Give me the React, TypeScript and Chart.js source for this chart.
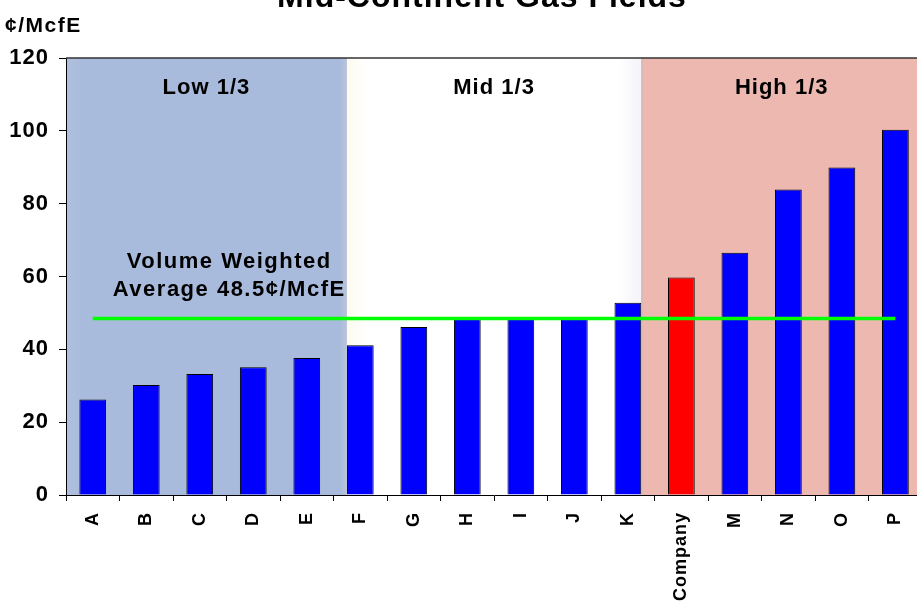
import React, { useEffect, useRef } from "react";
import { Chart, registerables } from "chart.js";

Chart.register(...registerables);

// ---- data ----
const chartTitle = "Mid-Continent Gas Fields";
const unitLabel = "¢/McfE";
const categories = ["A", "B", "C", "D", "E", "F", "G", "H", "I", "J", "K", "Company", "M", "N", "O", "P"];
const costs = [26.2, 30.2, 33.2, 35.1, 37.6, 41.1, 46.1, 48.3, 48.3, 48.3, 52.8, 59.7, 66.5, 83.9, 89.9, 100.3];
const highlightCategory = "Company";
const weightedAverage = 48.5;
const averageLabelLines = ["Volume Weighted", "Average 48.5¢/McfE"];
const yTicks = [0, 20, 40, 60, 80, 100, 120];
const bandLabels = ["Low 1/3", "Mid 1/3", "High 1/3"];
// band boundaries expressed in category-index units
const bandEdges = [-0.5, 4.75, 10.25, 15.5];

const FONT = "'Liberation Sans', Arial, Helvetica, sans-serif";
const BLUE_BAND = "#a9bbdc";
const PINK_BAND = "#edb8b0";

const bandsPlugin = {
  id: "bands",
  beforeDraw(chart: any) {
    const { ctx, chartArea: a, scales } = chart;
    const x = scales.x;
    const h = a.bottom - a.top;
    const b1 = x.getPixelForValue(bandEdges[1]);
    const p0 = x.getPixelForValue(bandEdges[2]);
    ctx.save();
    ctx.fillStyle = "#ffffff";
    ctx.fillRect(a.left, a.top, a.right - a.left, h);
    // low band
    ctx.fillStyle = BLUE_BAND;
    ctx.fillRect(a.left, a.top, b1 - a.left, h);
    let g = ctx.createLinearGradient(a.left, 0, a.left + 16, 0);
    g.addColorStop(0, "#b0c0de");
    g.addColorStop(1, BLUE_BAND);
    ctx.fillStyle = g;
    ctx.fillRect(a.left, a.top, 16, h);
    g = ctx.createLinearGradient(b1 - 7, 0, b1, 0);
    g.addColorStop(0, BLUE_BAND);
    g.addColorStop(1, "#b9c4da");
    ctx.fillStyle = g;
    ctx.fillRect(b1 - 7, a.top, 7, h);
    g = ctx.createLinearGradient(b1, 0, b1 + 20, 0);
    g.addColorStop(0, "#fdfbee");
    g.addColorStop(1, "#ffffff");
    ctx.fillStyle = g;
    ctx.fillRect(b1, a.top, 20, h);
    // high band
    g = ctx.createLinearGradient(p0 - 22, 0, p0, 0);
    g.addColorStop(0, "#ffffff");
    g.addColorStop(1, "#f3f3f9");
    ctx.fillStyle = g;
    ctx.fillRect(p0 - 22, a.top, 22, h);
    ctx.fillStyle = PINK_BAND;
    ctx.fillRect(p0, a.top, a.right - p0, h);
    ctx.fillStyle = "#dcb8b6";
    ctx.fillRect(p0, a.top, 2, h);
    ctx.restore();
    ctx.letterSpacing = "1px";
  },
  afterDraw(chart: any) {
    const { ctx, chartArea: a, scales } = chart;
    const x = scales.x;
    const y = scales.y;
    ctx.save();
    // top frame line
    ctx.strokeStyle = "#333333";
    ctx.lineWidth = 1.5;
    ctx.beginPath();
    ctx.moveTo(a.left, a.top);
    ctx.lineTo(a.right, a.top);
    ctx.stroke();

    ctx.fillStyle = "#000";
    ctx.textBaseline = "alphabetic";
    // title (partly cut off at the top)
    ctx.textAlign = "center";
    ctx.font = `bold 32px ${FONT}`;
    ctx.letterSpacing = "1px";
    ctx.fillText(chartTitle, 482, 7);
    // unit label
    ctx.textAlign = "left";
    ctx.font = `bold 21px ${FONT}`;
    ctx.letterSpacing = "1.5px";
    ctx.fillText(unitLabel, 5, 32);
    // band labels
    ctx.textAlign = "center";
    ctx.font = `bold 22px ${FONT}`;
    ctx.letterSpacing = "1px";
    bandLabels.forEach((lbl, i) => {
      const cx = x.getPixelForValue((bandEdges[i] + bandEdges[i + 1]) / 2);
      ctx.fillText(lbl, cx, y.getPixelForValue(110.2));
    });
    // average annotation
    ctx.letterSpacing = "1.5px";
    const ax = x.getPixelForValue(2.55);
    ctx.fillText(averageLabelLines[0], ax, y.getPixelForValue(62.4));
    ctx.fillText(averageLabelLines[1], ax, y.getPixelForValue(54.6));
    ctx.restore();
  },
};

export default function App() {
  const ref = useRef<HTMLCanvasElement>(null);

  useEffect(() => {
    if (!ref.current) return;
    const chart = new Chart(ref.current, {
      type: "bar",
      data: {
        labels: categories,
        datasets: [
          {
            type: "line",
            data: categories.map(() => weightedAverage),
            borderColor: "#00ff00",
            borderWidth: 3.5,
            pointRadius: 0,
            fill: false,
            order: 0,
          } as any,
          {
            type: "bar",
            data: costs,
            backgroundColor: categories.map((c) => (c === highlightCategory ? "#ff0000" : "#0000ff")),
            borderColor: "#000000",
            borderWidth: 1,
            barPercentage: 0.5,
            categoryPercentage: 1.0,
            order: 1,
          },
        ],
      },
      options: {
        responsive: false,
        animation: false,
        devicePixelRatio: 1,
        layout: { padding: { top: 58, left: 0, right: 0, bottom: 0 } },
        plugins: {
          legend: { display: false },
          tooltip: { enabled: false },
          title: { display: false },
        },
        scales: {
          x: {
            type: "category",
            offset: true,
            grid: {
              display: true,
              drawOnChartArea: false,
              drawTicks: true,
              tickLength: 6,
              color: "#000",
              offset: true,
            },
            border: { display: true, color: "#000", width: 1 },
            ticks: {
              autoSkip: false,
              maxRotation: 90,
              minRotation: 90,
              padding: 11,
              color: "#000",
              font: { family: FONT, size: 18, weight: "bold" },
            },
            afterFit: (s: any) => {
              s.height = 106;
            },
          },
          y: {
            min: 0,
            max: 120,
            afterBuildTicks: (s: any) => {
              s.ticks = yTicks.map((v) => ({ value: v }));
            },
            grid: {
              display: true,
              drawOnChartArea: false,
              drawTicks: true,
              tickLength: 7,
              color: "#000",
            },
            border: { display: true, color: "#000", width: 1 },
            ticks: {
              padding: 10,
              color: "#000",
              font: { family: FONT, size: 22, weight: "bold" },
            },
            afterFit: (s: any) => {
              s.width = 66;
            },
          },
        },
      } as any,
      plugins: [bandsPlugin],
    });
    return () => chart.destroy();
  }, []);

  return (
    <div
      style={{
        position: "fixed",
        left: 0,
        top: 0,
        width: 917,
        height: 601,
        overflow: "hidden",
        background: "#ffffff",
      }}
    >
      <canvas
        ref={ref}
        width={928}
        height={601}
        style={{ display: "block", width: 928, height: 601 }}
      />
    </div>
  );
}
